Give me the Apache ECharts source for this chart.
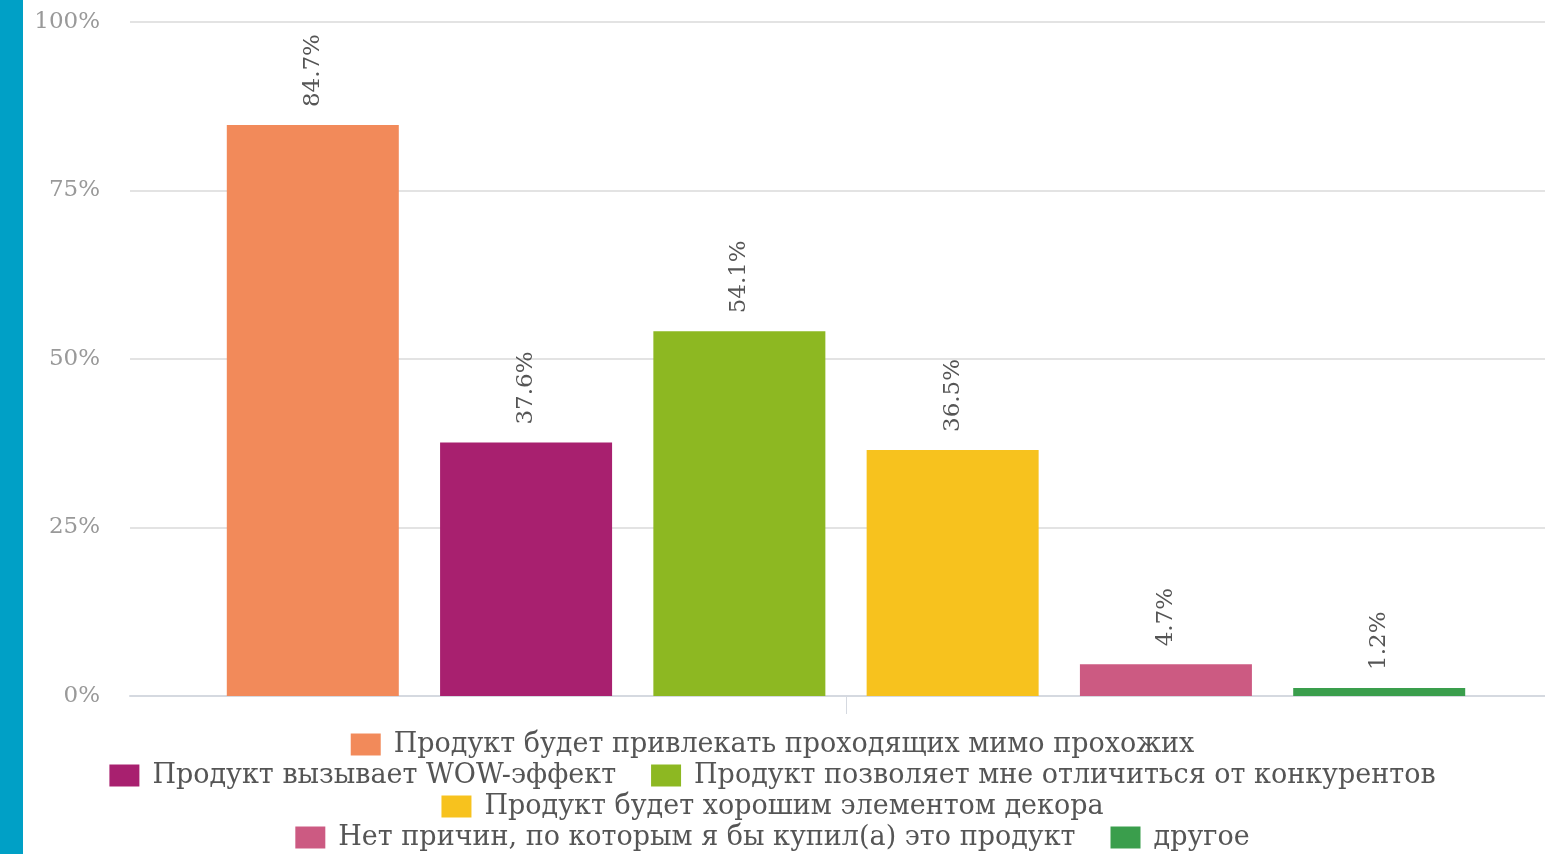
<!DOCTYPE html>
<html>
<head>
<meta charset="utf-8">
<script src="https://cdn.jsdelivr.net/npm/echarts@6/dist/echarts.min.js"></script>
<style>
  html, body { margin: 0; padding: 0; background: #fff; }
  #chart { width: 1545px; height: 854px; }
</style>
</head>
<body>
<div id="chart"></div>
<script>
// данные опроса
var categories = ["Причины покупки"];
var seriesNames = [
  "Продукт будет привлекать проходящих мимо прохожих",
  "Продукт вызывает WOW-эффект",
  "Продукт позволяет мне отличиться от конкурентов",
  "Продукт будет хорошим элементом декора",
  "Нет причин, по которым я бы купил(а) это продукт",
  "другое"
];
var seriesValues = [84.7, 37.6, 54.1, 36.5, 4.7, 1.2];
var seriesColors = ["#f28a5a", "#a8206f", "#8db822", "#f7c21e", "#cc5a82", "#3a9e4c"];
var yTicks = [0, 25, 50, 75, 100];
var legendRows = [[0], [1, 2], [3], [4, 5]];

var FONT = "DejaVu Serif";
var myChart = echarts.init(document.getElementById("chart"));

var series = seriesNames.map(function (name, i) {
  return {
    name: name,
    type: "bar",
    barWidth: 172,
    barGap: "24%",
    itemStyle: { color: seriesColors[i] },
    label: {
      show: true,
      position: "top",
      rotate: 90,
      distance: 18,
      align: "left",
      verticalAlign: "middle",
      fontFamily: FONT,
      fontSize: 23,
      color: "#555",
      formatter: function (p) { return p.value.toFixed(1) + "%"; }
    },
    data: [seriesValues[i]]
  };
});

var legends = legendRows.map(function (row, r) {
  return {
    data: row.map(function (i) { return { name: seriesNames[i], icon: "rect" }; }),
    left: "center",
    top: 731 + r * 31,
    itemWidth: 30,
    itemHeight: 22,
    itemGap: 35,
    padding: 0,
    selectedMode: false,
    textStyle: { fontFamily: FONT, fontSize: 27, color: "#555", padding: [0, 0, 0, 8] }
  };
});

var option = {
  backgroundColor: "#fff",
  animation: false,
  color: seriesColors,
  graphic: [
    { type: "rect", left: 0, top: 0, shape: { width: 23, height: 854 }, style: { fill: "#00a0c6" } }
  ],
  legend: legends,
  grid: { left: 130, width: 1432, top: 22, bottom: 158, outerBoundsMode: "none" },
  xAxis: {
    type: "category",
    data: categories,
    axisLine: { lineStyle: { color: "#d5d9e0", width: 2 } },
    axisTick: { show: true, alignWithLabel: true, length: 18, lineStyle: { color: "#d5d9e0" } },
    axisLabel: { show: false }
  },
  yAxis: {
    type: "value",
    min: yTicks[0],
    max: yTicks[yTicks.length - 1],
    interval: 25,
    axisLine: { show: false },
    axisTick: { show: false },
    splitLine: { lineStyle: { color: "#e3e3e3", width: 2 } },
    axisLabel: {
      margin: 30,
      fontFamily: FONT,
      fontSize: 23,
      color: "#999",
      formatter: function (v) { return v + "%"; }
    }
  },
  series: series
};

option && myChart.setOption(option);
</script>
</body>
</html>
